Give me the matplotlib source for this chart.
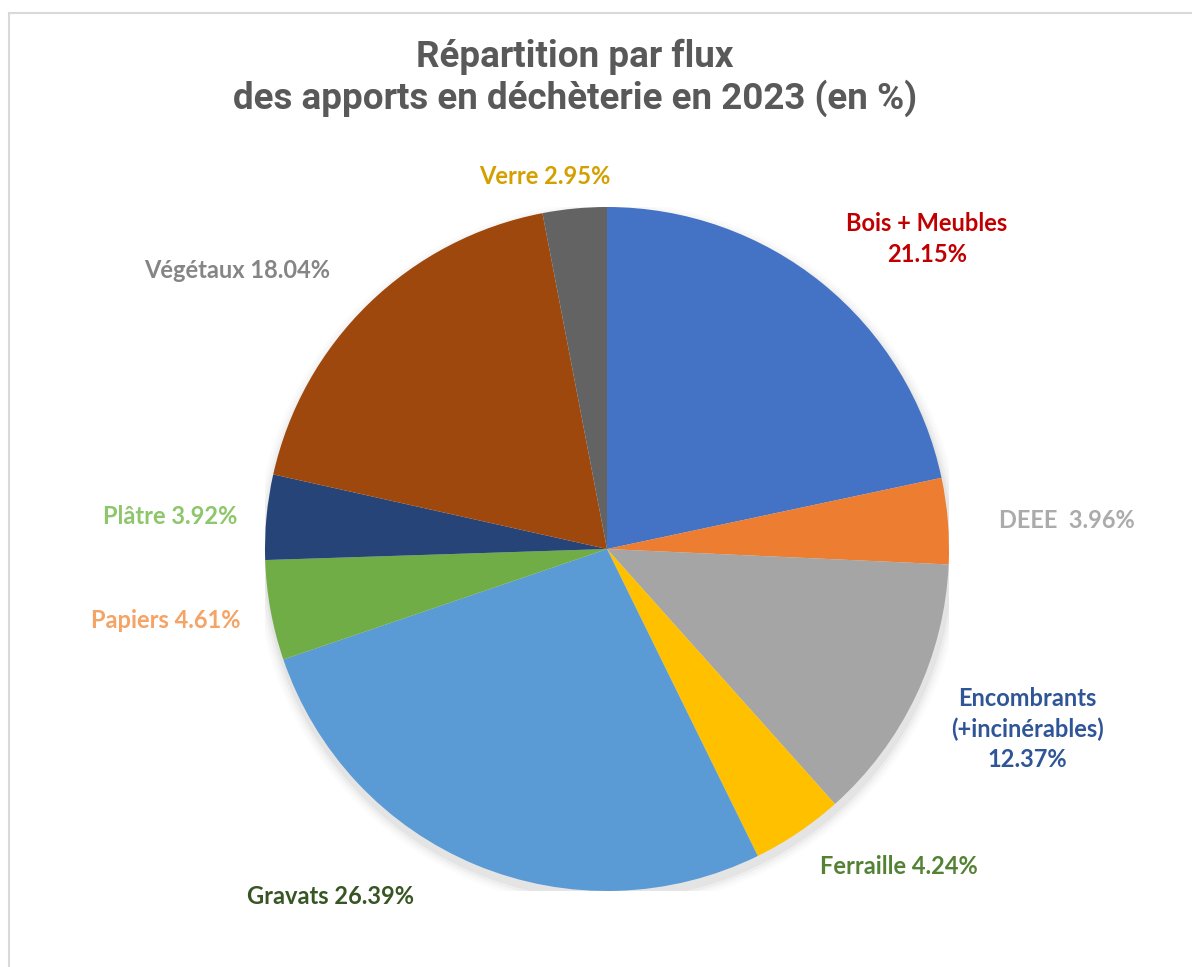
import matplotlib.pyplot as plt
from matplotlib.patches import Rectangle

# ==========================================
# Data
# ==========================================

flux = ["Bois + Meubles", "DEEE", "Encombrants\n(+incinérables)", "Ferraille",
        "Gravats", "Papiers", "Plâtre", "Végétaux", "Verre"]
parts = [21.15, 3.96, 12.37, 4.24, 26.39, 4.61, 3.92, 18.04, 2.95]
label_text = ["Bois + Meubles\n21.15%", "DEEE  3.96%", "Encombrants\n(+incinérables)\n12.37%",
              "Ferraille 4.24%", "Gravats 26.39%", "Papiers 4.61%", "Plâtre 3.92%",
              "Végétaux 18.04%", "Verre 2.95%"]

slice_colors = ["#4472C4", "#ED7D31", "#A5A5A5", "#FFC000", "#5B9BD5",
                "#70AD47", "#264478", "#9E480E", "#636363"]
label_colors = ["#C00000", "#ABABAB", "#2F5597", "#548235", "#375623",
                "#F4A466", "#8DC66B", "#858585", "#D4A000"]

# label positions in pixels (x, y from top)
label_pos = [(927, 239), (1067, 521), (1027, 729), (899, 866), (331, 897),
             (166, 620), (170, 517), (237, 271), (545, 176)]

# ==========================================
# Figure
# ==========================================

W, H = 1192, 967
fig = plt.figure(figsize=(W / 100, H / 100), dpi=100)
fig.patch.set_facecolor("white")

# chart frame (only top/left edge visible)
fig.add_artist(Rectangle((8.5 / W, -0.1), 1.2, (H - 12.5) / H + 0.1,
                         transform=fig.transFigure, fill=False,
                         edgecolor="#D9D9D9", linewidth=1.5))

cx, cy, r = 607, 549, 342
ax = fig.add_axes([(cx - r) / W, (H - cy - r) / H, 2 * r / W, 2 * r / H])

# soft shadow
for i, a in enumerate([0.04, 0.03, 0.02, 0.015]):
    circ = plt.Circle((0.004, -0.018), 1.0 + 0.008 * (i + 1), color="black",
                      alpha=a, linewidth=0, zorder=0)
    ax.add_patch(circ)

ax.pie(parts, colors=slice_colors, startangle=90, counterclock=False,
       radius=1.0, wedgeprops=dict(linewidth=0))
ax.set_xlim(-1, 1)
ax.set_ylim(-1, 1)
ax.set_aspect("auto")
ax.axis("off")

for txt, col, (px, py) in zip(label_text, label_colors, label_pos):
    fig.text(px / W, 1 - py / H, txt, color=col, fontsize=17, fontweight="bold",
             family="Lato", ha="center", va="center", linespacing=1.4)

fig.text(575 / W, 1 - 78 / H,
         "Répartition par flux\ndes apports en déchèterie en 2023 (en %)",
         color="#595959", fontsize=26.5, fontweight="bold", family="Roboto",
         ha="center", va="center", linespacing=1.15)

plt.savefig("out.png", dpi=100, facecolor="white")
